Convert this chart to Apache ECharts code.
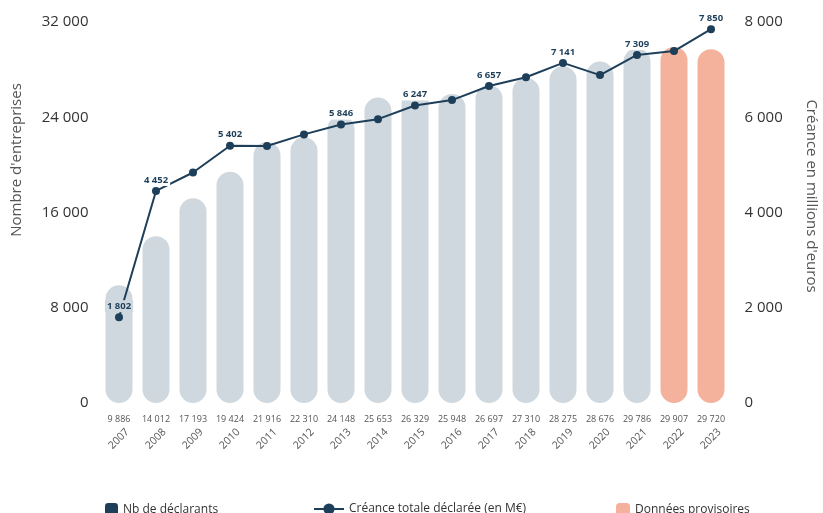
<!DOCTYPE html>
<html>
<head>
<meta charset="utf-8">
<script src="https://cdn.jsdelivr.net/npm/echarts@6/dist/echarts.min.js"></script>
<style>
  html, body { margin: 0; padding: 0; background: #fff; }
  #chart { width: 823px; height: 513px; }
</style>
</head>
<body>
<div id="chart"></div>
<script>
const years = ['2007', '2008', '2009', '2010', '2011', '2012', '2013', '2014', '2015',
  '2016', '2017', '2018', '2019', '2020', '2021', '2022', '2023']
const declarants = [9886, 14012, 17193, 19424, 21916, 22310, 24148, 25653, 26329,
  25948, 26697, 27310, 28275, 28676, 29786, 29907, 29720]
const provisoires = ['2022', '2023']
const creance = [1802, 4452, 4840, 5402, 5395, 5640, 5846, 5960, 6247,
  6360, 6657, 6840, 7141, 6885, 7309, 7390, 7850]
const labelledYears = ['2007', '2008', '2010', '2013', '2015', '2017', '2019', '2021', '2023']

const navy = '#1e3f5a'
const grey = '#cfd8de'
const salmon = '#f4b19b'
const font = 'Open Sans'

function fmt(v) {
  return String(v).replace(/\B(?=(\d{3})+(?!\d))/g, ' ')
}

const barDef = years.map((y, i) => provisoires.includes(y) ? '-' : declarants[i])
const barProv = years.map((y, i) => provisoires.includes(y) ? declarants[i] : '-')
// the first label sits on a bar, the others on white
const lineData = years.map((y, i) => ({
  value: creance[i],
  label: { show: labelledYears.includes(y), backgroundColor: i === 0 ? grey : '#fff' }
}))

const chart = echarts.init(document.getElementById('chart'))
chart.setOption({
  animation: false,
  textStyle: { fontFamily: font },
  grid: { left: 100.5, right: 93.5, top: 22, bottom: 110 },
  legend: [
    {
      left: 100, top: 498, itemWidth: 13, itemHeight: 14, itemGap: 6,
      textStyle: { fontSize: 12, color: '#333', fontFamily: font },
      data: [{ name: 'Nb de déclarants', itemStyle: { color: navy } }]
    },
    {
      left: 308, top: 498, itemWidth: 30, itemHeight: 14,
      textStyle: { fontSize: 12, color: '#333', fontFamily: font },
      data: ['Créance totale déclarée (en M€)']
    },
    {
      left: 611, top: 498, itemWidth: 14, itemHeight: 14,
      textStyle: { fontSize: 12, color: '#333', fontFamily: font },
      data: ['Données provisoires']
    }
  ],
  xAxis: [
    {
      type: 'category', data: years, position: 'bottom',
      axisLine: { show: false }, axisTick: { show: false },
      axisLabel: {
        margin: 12, fontSize: 9, color: '#555', fontFamily: font,
        formatter: (v, i) => fmt(declarants[i])
      }
    },
    {
      type: 'category', data: years, position: 'bottom',
      axisLine: { show: false }, axisTick: { show: false },
      axisLabel: {
        margin: 36, rotate: 45, align: 'center', verticalAlign: 'middle',
        fontSize: 10.5, color: '#555', fontFamily: font
      }
    }
  ],
  yAxis: [
    {
      type: 'value', min: 0, max: 32000, interval: 8000,
      splitLine: { show: false }, axisLine: { show: false }, axisTick: { show: false },
      axisLabel: { margin: 12, fontSize: 15, color: '#333', fontFamily: font, formatter: v => fmt(v) }
    },
    {
      type: 'value', min: 0, max: 8000, interval: 2000,
      splitLine: { show: false }, axisLine: { show: false }, axisTick: { show: false },
      axisLabel: { margin: 15, fontSize: 15, color: '#333', fontFamily: font, formatter: v => fmt(v) }
    }
  ],
  graphic: [
    {
      type: 'text', x: 17, y: 160, rotation: Math.PI / 2,
      style: { text: "Nombre d'entreprises", fontSize: 15, fill: '#555', fontFamily: font,
        textAlign: 'center', textVerticalAlign: 'middle' }
    },
    {
      type: 'text', x: 811, y: 196, rotation: -Math.PI / 2,
      style: { text: "Créance en millions d'euros", fontSize: 15, fill: '#555', fontFamily: font,
        textAlign: 'center', textVerticalAlign: 'middle' }
    }
  ],
  series: [
    {
      name: 'Nb de déclarants', type: 'bar', data: barDef,
      barWidth: 27, barGap: '-100%',
      itemStyle: { color: grey, borderRadius: 13.5 }
    },
    {
      name: 'Données provisoires', type: 'bar', data: barProv,
      barWidth: 27, barGap: '-100%',
      itemStyle: { color: salmon, borderRadius: 13.5 }
    },
    {
      name: 'Créance totale déclarée (en M€)', type: 'line', yAxisIndex: 1,
      data: lineData, symbol: 'circle', symbolSize: 8,
      lineStyle: { color: navy, width: 2 },
      itemStyle: { color: navy },
      label: {
        position: 'top', distance: 1, fontSize: 9.5, fontWeight: 'bold', color: navy,
        padding: [1, 2], fontFamily: font, formatter: p => fmt(p.value)
      },
      z: 5
    }
  ]
})
</script>
</body>
</html>
